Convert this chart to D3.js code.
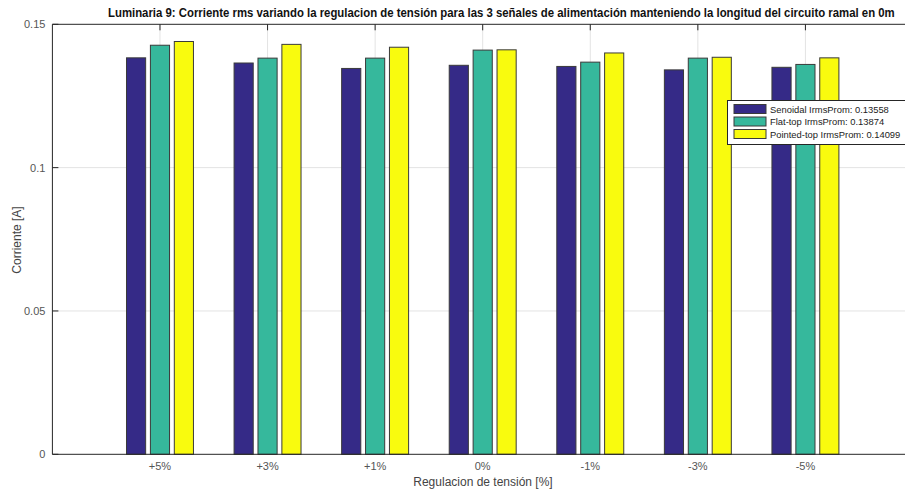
<!DOCTYPE html>
<html><head><meta charset="utf-8">
<script src="https://cdn.jsdelivr.net/npm/d3@7"></script>
<style>body{margin:0;background:#fff}svg{display:block;font-family:"Liberation Sans",Arial,sans-serif}</style>
</head><body><svg id="c" width="905" height="493"></svg>
<script>
const categories = ["+5%","+3%","+1%","0%","-1%","-3%","-5%"];
const senoidal   = [0.1383,0.1365,0.1346,0.1357,0.1353,0.1341,0.1350];
const flatTop    = [0.1427,0.1382,0.1382,0.1410,0.1368,0.1382,0.1360];
const pointedTop = [0.1440,0.1430,0.1420,0.1411,0.1400,0.1385,0.1383];
const seriesNames = ["Senoidal IrmsProm: 0.13558","Flat-top IrmsProm: 0.13874","Pointed-top IrmsProm: 0.14099"];
const yTicks = [0,0.05,0.1,0.15];
const yTickLabels = ["0","0.05","0.1","0.15"];
const colors = ["#352a87","#36b89c","#f9fb0e"];
const series = [senoidal, flatTop, pointedTop];

const svg = d3.select("#c");
const L = 52.4, R = 913, T = 24.3, B = 454.3;
const x = d3.scaleLinear().domain([0, 8]).range([L, R]);
const y = d3.scaleLinear().domain([0, 0.15]).range([B, T]);

// grid
const g = svg.append("g");
g.selectAll(".vg").data(categories).join("line")
  .attr("x1",(d,i)=>x(i+1)).attr("x2",(d,i)=>x(i+1)).attr("y1",T).attr("y2",B)
  .attr("stroke","#e3e3e3").attr("stroke-width",1);
g.selectAll(".hg").data(yTicks.slice(1,3)).join("line")
  .attr("x1",L).attr("x2",R).attr("y1",d=>y(d)).attr("y2",d=>y(d))
  .attr("stroke","#e3e3e3").attr("stroke-width",1);

// bars
const offset = 0.2222, bw = 0.178;
series.forEach((s, k) => {
  svg.append("g").selectAll("rect").data(s).join("rect")
    .attr("x",(d,i)=>x(i+1+(k-1)*offset - bw/2))
    .attr("width", x(bw)-x(0))
    .attr("y", d=>y(d))
    .attr("height", d=>B-y(d))
    .attr("fill", colors[k])
    .attr("stroke","#3a3a3a").attr("stroke-width",1);
});

// axes box
svg.append("line").attr("x1",L).attr("x2",L).attr("y1",T).attr("y2",B).attr("stroke","#262626");
svg.append("line").attr("x1",L).attr("x2",R).attr("y1",T).attr("y2",T).attr("stroke","#262626");
svg.append("line").attr("x1",L).attr("x2",R).attr("y1",B).attr("y2",B).attr("stroke","#262626");

// ticks
svg.append("g").selectAll("line").data(categories).join("line")
  .attr("x1",(d,i)=>x(i+1)).attr("x2",(d,i)=>x(i+1)).attr("y1",T).attr("y2",T+6)
  .attr("stroke","#262626");
svg.append("g").selectAll("line").data(yTicks).join("line")
  .attr("x1",L).attr("x2",L+6).attr("y1",d=>y(d)).attr("y2",d=>y(d))
  .attr("stroke","#262626");

// tick labels
svg.append("g").selectAll("text").data(yTickLabels).join("text")
  .attr("x",L-7).attr("y",(d,i)=>y(yTicks[i])+4)
  .attr("text-anchor","end").attr("font-size",11).attr("fill","#555").text(d=>d);
svg.append("g").selectAll("text").data(categories).join("text")
  .attr("x",(d,i)=>x(i+1)).attr("y",B+16)
  .attr("text-anchor","middle").attr("font-size",11).attr("fill","#555").text(d=>d);

// axis labels
svg.append("text").attr("x",483).attr("y",486).attr("text-anchor","middle")
  .attr("font-size",12).attr("fill","#444").text("Regulacion de tensión [%]");
svg.append("text").attr("transform","translate(21,240) rotate(-90)").attr("text-anchor","middle")
  .attr("font-size",12).attr("fill","#444").text("Corriente [A]");

// title (horizontally scaled to fit like the reference)
const title = svg.append("text").attr("x",0).attr("y",0).attr("font-size",12.5).attr("font-weight","bold")
  .attr("fill","#111")
  .text("Luminaria 9: Corriente rms variando la regulacion de tensión para las 3 señales de alimentación manteniendo la longitud del circuito ramal en 0m");
const tw = title.node().getComputedTextLength();
const sx = Math.min(1, 788 / tw);
title.attr("transform", `translate(108,17) scale(${sx},1)`);

// legend
const lg = svg.append("g");
lg.append("rect").attr("x",727.5).attr("y",100.5).attr("width",200).attr("height",44)
  .attr("fill","#fff").attr("stroke","#262626");
seriesNames.forEach((n,k)=>{
  const cy = 109 + k*12.5;
  lg.append("rect").attr("x",734).attr("y",cy-4.5).attr("width",32).attr("height",9)
    .attr("fill",colors[k]).attr("stroke","#3a3a3a");
  lg.append("text").attr("x",770).attr("y",cy+3.5).attr("font-size",9.4).attr("fill","#222").text(n);
});
</script></body></html>
